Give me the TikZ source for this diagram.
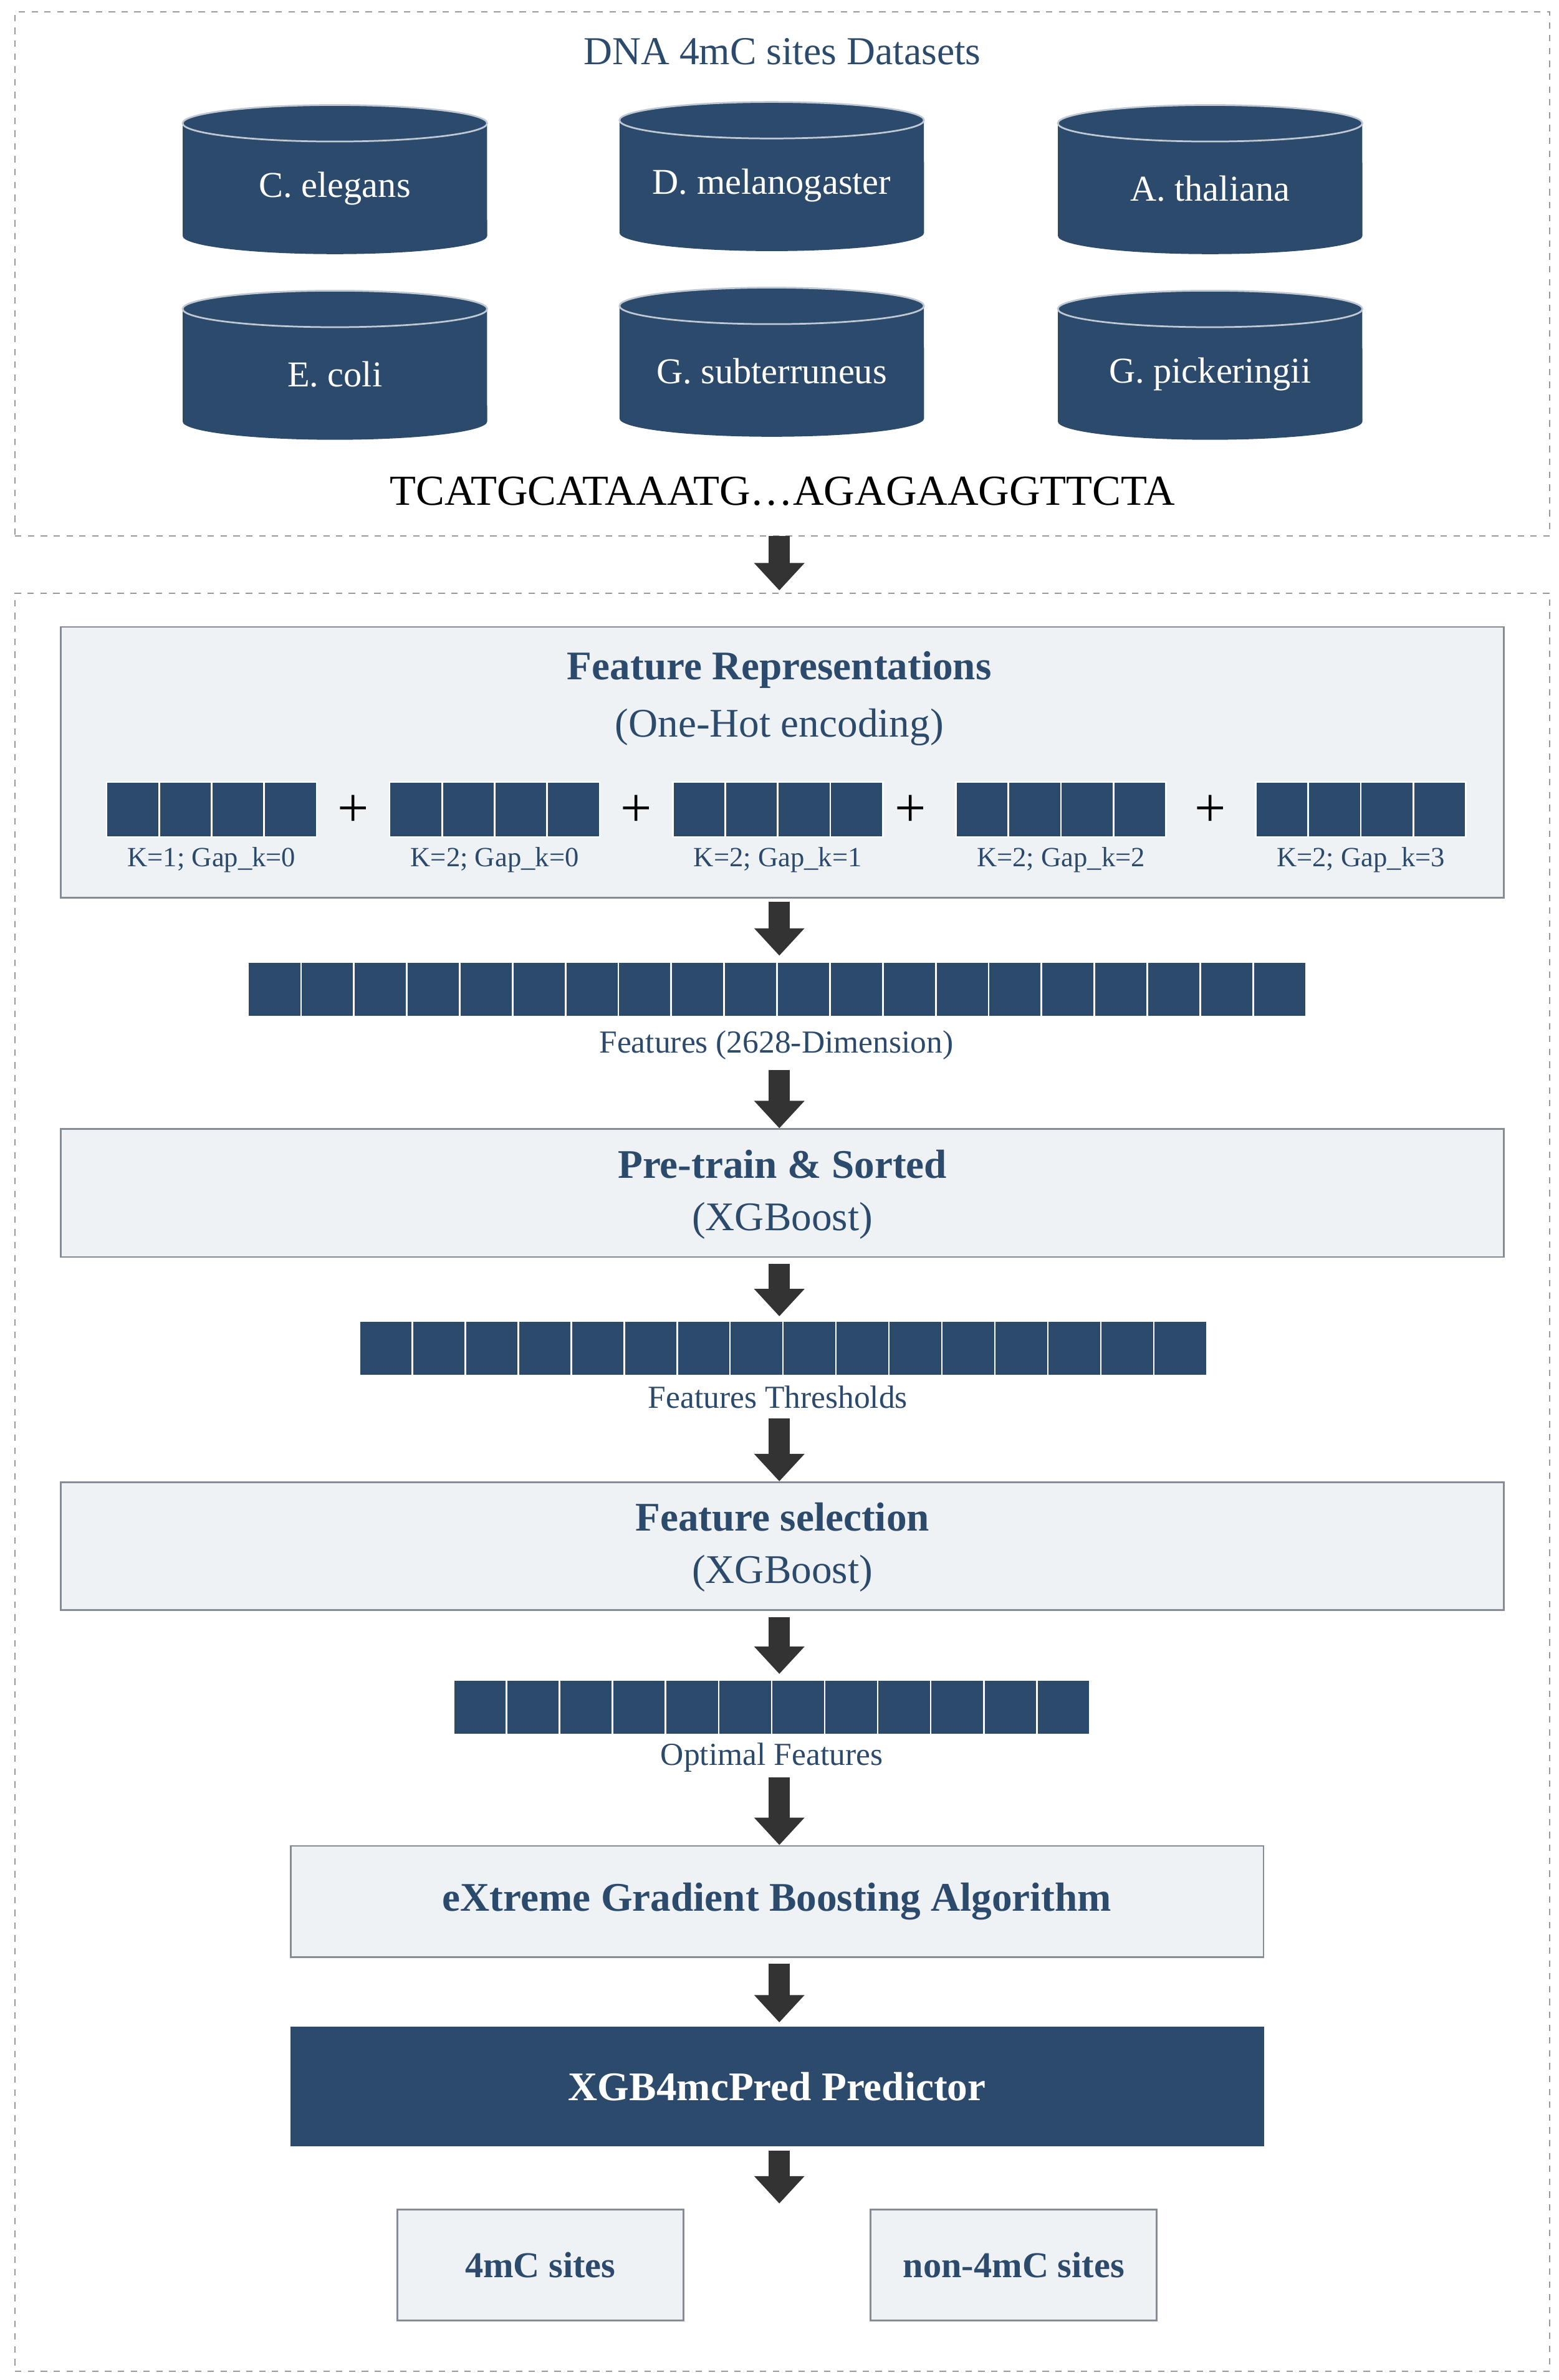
\documentclass[tikz,border=0pt]{standalone}
\usepackage{fontspec}
\setmainfont{Liberation Serif}
\usetikzlibrary{arrows.meta}
\definecolor{navy}{HTML}{2C4A6B}
\definecolor{lbox}{HTML}{EEF2F5}
\definecolor{lbord}{HTML}{858C96}
\definecolor{arrc}{HTML}{333333}
\begin{document}
\begin{tikzpicture}[x=0.025cm,y=-0.025cm,
  dbox/.style={draw=gray!80,dashed,line width=0.6pt},
  lb/.style={draw=lbord,fill=lbox,line width=0.8pt,inner sep=0pt},
  arr/.style={draw=arrc,line width=0.35cm,-{Triangle[width=0.8cm,length=0.45cm]}},
  ttl/.style={text=navy,font=\fontsize{19}{22}\selectfont\bfseries},
  sub/.style={text=navy,font=\fontsize{19}{22}\selectfont},
  lab/.style={text=navy,font=\fontsize{15}{18}\selectfont,inner sep=0pt},
  klab/.style={text=navy,font=\fontsize{13}{15}\selectfont},
  cyt/.style={text=white,font=\fontsize{17}{20}\selectfont},
  sq/.style={fill=navy,draw=white,line width=0.8pt}]
\useasboundingbox (0,0) rectangle (1024,1564);
\fill[white] (0,0) rectangle (1024,1564);
% top box
\node[dbox,minimum width=25.2cm,minimum height=8.6cm,inner sep=0pt] (topbox) at (514,180) {};
\node[text=navy,font=\fontsize{18.5}{22}\selectfont] (t1) at (514,34) {DNA 4mC sites Datasets};
\foreach \cx/\cy/\nm/\tx in {220/118/c1/C. elegans,507/116/c2/D. melanogaster,795/118/c3/A. thaliana,
   220/240/c4/E. coli,507/238/c5/G. subterruneus,795/240/c6/G. pickeringii}{
  \fill[navy] (\cx-100,\cy-37) -- (\cx-100,\cy+37) arc[start angle=180,end angle=360,x radius=2.5cm,y radius=0.3cm]
     -- (\cx+100,\cy-37) arc[start angle=0,end angle=180,x radius=2.5cm,y radius=0.3cm] -- cycle;
  \draw[white!70!navy,line width=0.8pt] (\cx,\cy-37) ellipse[x radius=2.5cm,y radius=0.3cm];
  \node[cyt] (\nm) at (\cx,\cy+6) {\tx};
}
\node[font=\fontsize{20}{24}\selectfont] (seq) at (514,323) {TCATGCATAAATG\ldots AGAGAAGGTTCTA};
% bottom box
\node[dbox,minimum width=25.2cm,minimum height=29.2cm,inner sep=0pt] (botbox) at (514,974) {};
% feature representations
\node[lb,minimum width=23.7cm,minimum height=4.45cm] (fr) at (514,501) {};
\node[ttl] (fr1) at (512,440) {Feature Representations};
\node[sub] (fr2) at (512,478) {(One-Hot encoding)};
\foreach \gx/\kl [count=\i] in {70/{K=1; Gap\_k=0},256/{K=2; Gap\_k=0},442/{K=2; Gap\_k=1},628/{K=2; Gap\_k=2},825/{K=2; Gap\_k=3}}{
  \foreach \j in {0,...,3}{\draw[sq] (\gx+\j*34.5,514) rectangle (\gx+\j*34.5+34.5,550);}
  \node[klab] (k\i) at (\gx+69,565) {\kl};
}
\foreach \px [count=\i] in {232,418,598,795}{\node[font=\fontsize{26}{26}\selectfont] (p\i) at (\px,533) {+};}
% strip 1
\node[minimum width=17.375cm,minimum height=0.9cm,inner sep=0pt] (s1) at (510.5,650) {};
\foreach \j in {0,...,19}{\draw[sq] (163+\j*34.75,632) rectangle (163+\j*34.75+34.75,668);}
\node[lab] (s1l) at (510,687) {Features (2628-Dimension)};
% pretrain
\node[lb,minimum width=23.7cm,minimum height=2.1cm] (pt) at (514,784) {};
\node[ttl] (pt1) at (514,765) {Pre-train \& Sorted};
\node[sub] (pt2) at (514,802) {(XGBoost)};
% strip 2
\node[minimum width=13.925cm,minimum height=0.9cm,inner sep=0pt] (s2) at (514.5,886) {};
\foreach \j in {0,...,15}{\draw[sq] (236+\j*34.8,868) rectangle (236+\j*34.8+34.8,904);}
\node[lab] (s2l) at (511,918) {Features Thresholds};
% feature selection
\node[lb,minimum width=23.7cm,minimum height=2.1cm] (fs) at (514,1016) {};
\node[ttl] (fs1) at (514,997) {Feature selection};
\node[sub] (fs2) at (514,1034) {(XGBoost)};
% strip 3
\node[minimum width=10.45cm,minimum height=0.9cm,inner sep=0pt] (s3) at (507,1122) {};
\foreach \j in {0,...,11}{\draw[sq] (298+\j*34.83,1104) rectangle (298+\j*34.83+34.83,1140);}
\node[lab] (s3l) at (507,1155) {Optimal Features};
% xgboost
\node[lb,minimum width=15.975cm,minimum height=1.825cm,ttl] (xg) at (510.5,1249.5) {eXtreme Gradient Boosting Algorithm};
\node[fill=navy,draw=navy,minimum width=15.975cm,minimum height=1.95cm,text=white,font=\fontsize{19}{22}\selectfont\bfseries] (pred) at (510.5,1371) {XGB4mcPred Predictor};
\node[lb,minimum width=4.7cm,minimum height=1.825cm,text=navy,font=\fontsize{17}{20}\selectfont\bfseries] (o1) at (355,1488.5) {4mC sites};
\node[lb,minimum width=4.7cm,minimum height=1.825cm,text=navy,font=\fontsize{17}{20}\selectfont\bfseries] (o2) at (666,1488.5) {non-4mC sites};
\coordinate (pe) at (512,1448);
% arrows
\draw[arr] (512,352) -- (512,388);
\draw[arr] (fr.south -| s1l) ++(2,2) -- (512,628);
\draw[arr] (512,703) -- (pt.north -| 512,0);
\draw[arr] (pt.south -| 512,0) ++(0,4) -- (512,865);
\draw[arr] (512,932) -- (fs.north -| 512,0);
\draw[arr] (fs.south -| 512,0) ++(0,4) -- (512,1100);
\draw[arr] (512,1168) -- (xg.north -| 512,0);
\draw[arr] (xg.south -| 512,0) ++(0,4) -- (512,1329);
\draw[arr] (pred.south -| 512,0) ++(0,3) -- (pe);
\end{tikzpicture}
\end{document}
